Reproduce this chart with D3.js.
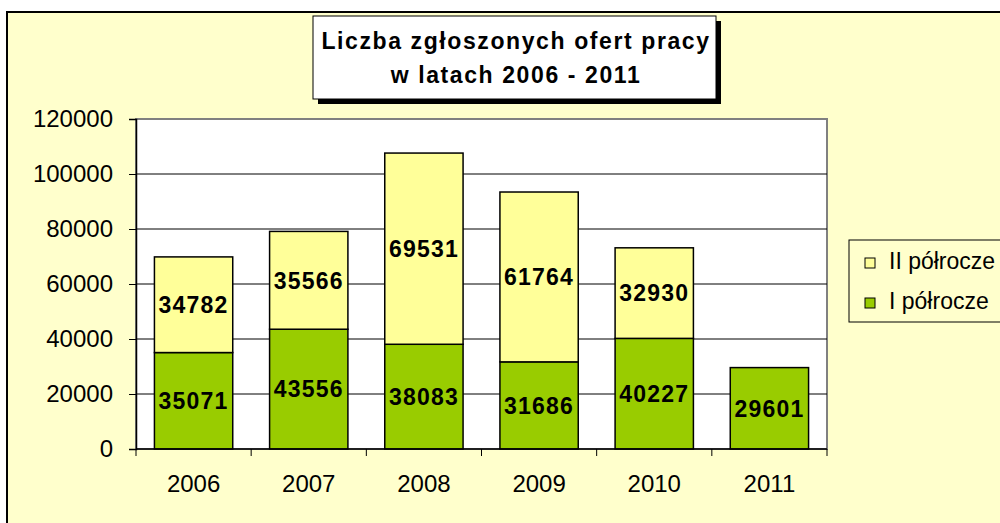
<!DOCTYPE html>
<html>
<head>
<meta charset="utf-8">
<script src="https://cdn.jsdelivr.net/npm/d3@7"></script>
<style>
  body { margin: 0; background: #fff; }
  svg { display: block; font-family: "Liberation Sans", Arial, sans-serif; }
</style>
</head>
<body>
<div id="chart"></div>
<script>
// data
var years = ["2006", "2007", "2008", "2009", "2010", "2011"];
var firstHalf = [35071, 43556, 38083, 31686, 40227, 29601];   // I półrocze
var secondHalf = [34782, 35566, 69531, 61764, 32930, 0];      // II półrocze
var yTicks = [0, 20000, 40000, 60000, 80000, 100000, 120000];
var seriesNames = ["II półrocze", "I półrocze"];
var seriesColors = ["#FFFF99", "#99CC00"];
var titleLines = ["Liczba zgłoszonych ofert pracy", "w latach 2006 - 2011"];

var width = 1000, height = 523;
var plot = {left: 136, right: 827, top: 119, bottom: 449};

var svg = d3.select("#chart").append("svg")
    .attr("width", width)
    .attr("height", height);

// chart area background
svg.append("rect")
    .attr("x", 7).attr("y", 12)
    .attr("width", 1010).attr("height", 530)
    .attr("fill", "#FFFFCC")
    .attr("stroke", "#000")
    .attr("stroke-width", 2);

var x = d3.scaleBand()
    .domain(years)
    .range([plot.left, plot.right])
    .paddingInner(0.32)
    .paddingOuter(0.16);

var y = d3.scaleLinear()
    .domain([0, 120000])
    .range([plot.bottom, plot.top]);

// plot area
svg.append("rect")
    .attr("x", plot.left).attr("y", plot.top)
    .attr("width", plot.right - plot.left)
    .attr("height", plot.bottom - plot.top)
    .attr("fill", "#fff")
    .attr("stroke", "#808080")
    .attr("stroke-width", 2);

// gridlines
svg.append("g").selectAll("line")
    .data(yTicks.filter(d => d > 0 && d < 120000))
    .enter().append("line")
    .attr("x1", plot.left).attr("x2", plot.right)
    .attr("y1", d => y(d)).attr("y2", d => y(d))
    .attr("stroke", "#000")
    .attr("stroke-width", 1);

// stacked data
var stacked = years.map(function(yr, i) {
  return {year: yr, a: firstHalf[i], b: secondHalf[i]};
});

var bars = svg.append("g");

// I półrocze (bottom)
bars.selectAll(".first")
    .data(stacked)
    .enter().append("rect")
    .attr("class", "first")
    .attr("x", d => x(d.year))
    .attr("width", x.bandwidth())
    .attr("y", d => y(d.a))
    .attr("height", d => y(0) - y(d.a))
    .attr("fill", seriesColors[1])
    .attr("stroke", "#000")
    .attr("stroke-width", 1.5);

// II półrocze (top)
bars.selectAll(".second")
    .data(stacked.filter(d => d.b > 0))
    .enter().append("rect")
    .attr("class", "second")
    .attr("x", d => x(d.year))
    .attr("width", x.bandwidth())
    .attr("y", d => y(d.a + d.b))
    .attr("height", d => y(d.a) - y(d.a + d.b))
    .attr("fill", seriesColors[0])
    .attr("stroke", "#000")
    .attr("stroke-width", 1.5);

// value labels
var lbl = svg.append("g")
    .attr("font-weight", "bold")
    .attr("font-size", 23)
    .attr("letter-spacing", 1.2)
    .attr("text-anchor", "middle");

lbl.selectAll(".la")
    .data(stacked)
    .enter().append("text")
    .attr("x", d => x(d.year) + x.bandwidth() / 2)
    .attr("y", d => (y(0) + y(d.a)) / 2)
    .attr("dy", "0.36em")
    .text(d => d.a);

lbl.selectAll(".lb")
    .data(stacked.filter(d => d.b > 0))
    .enter().append("text")
    .attr("x", d => x(d.year) + x.bandwidth() / 2)
    .attr("y", d => (y(d.a) + y(d.a + d.b)) / 2)
    .attr("dy", "0.36em")
    .text(d => d.b);

// y axis
var yAxis = svg.append("g")
    .attr("transform", "translate(" + plot.left + ",0)")
    .call(d3.axisLeft(y).tickValues(yTicks).tickSize(7).tickPadding(16).tickFormat(d3.format("d")));
yAxis.selectAll("text").attr("font-size", 24).attr("fill", "#000")
    .style("font-family", "\"Liberation Sans\", Arial, sans-serif");
yAxis.selectAll("line").attr("stroke", "#000");
yAxis.select(".domain").attr("stroke", "#000").attr("stroke-width", 1.5);

// x axis
var xAxis = svg.append("g")
    .attr("transform", "translate(0," + plot.bottom + ")")
    .call(d3.axisBottom(x).tickSize(0).tickPadding(26));
xAxis.select(".domain").remove();
xAxis.selectAll("text").attr("font-size", 24).attr("fill", "#000")
    .style("font-family", "\"Liberation Sans\", Arial, sans-serif");

svg.append("line")
    .attr("x1", plot.left).attr("x2", plot.right)
    .attr("y1", plot.bottom).attr("y2", plot.bottom)
    .attr("stroke", "#000").attr("stroke-width", 1.5);

// category boundary ticks
var bounds = d3.range(years.length + 1).map(i => plot.left + i * x.step());
svg.append("g").selectAll("line")
    .data(bounds)
    .enter().append("line")
    .attr("x1", d => d).attr("x2", d => d)
    .attr("y1", plot.bottom).attr("y2", plot.bottom + 7)
    .attr("stroke", "#000");

// title box with shadow
svg.append("rect")
    .attr("x", 318).attr("y", 21)
    .attr("width", 403).attr("height", 83)
    .attr("fill", "#000");
svg.append("rect")
    .attr("x", 313).attr("y", 16)
    .attr("width", 403).attr("height", 83)
    .attr("fill", "#fff")
    .attr("stroke", "#000")
    .attr("stroke-width", 1);
svg.append("g")
    .attr("font-weight", "bold")
    .attr("font-size", 23)
    .attr("letter-spacing", 1.6)
    .attr("text-anchor", "middle")
    .selectAll("text")
    .data(titleLines)
    .enter().append("text")
    .attr("x", 516)
    .attr("y", (d, i) => 49 + i * 34)
    .text(d => d);

// legend
var legend = svg.append("g");
legend.append("rect")
    .attr("x", 849).attr("y", 240)
    .attr("width", 170).attr("height", 82)
    .attr("fill", "#FFFFCC")
    .attr("stroke", "#000")
    .attr("stroke-width", 1);
var items = legend.selectAll(".item")
    .data(seriesNames)
    .enter().append("g")
    .attr("transform", (d, i) => "translate(865," + (258 + i * 40) + ")");
items.append("rect")
    .attr("width", 10).attr("height", 10)
    .attr("fill", (d, i) => seriesColors[i])
    .attr("stroke", "#000")
    .attr("stroke-width", 1);
items.append("text")
    .attr("x", 24).attr("y", 11)
    .attr("font-size", 23)
    .text(d => d);
</script>
</body>
</html>
